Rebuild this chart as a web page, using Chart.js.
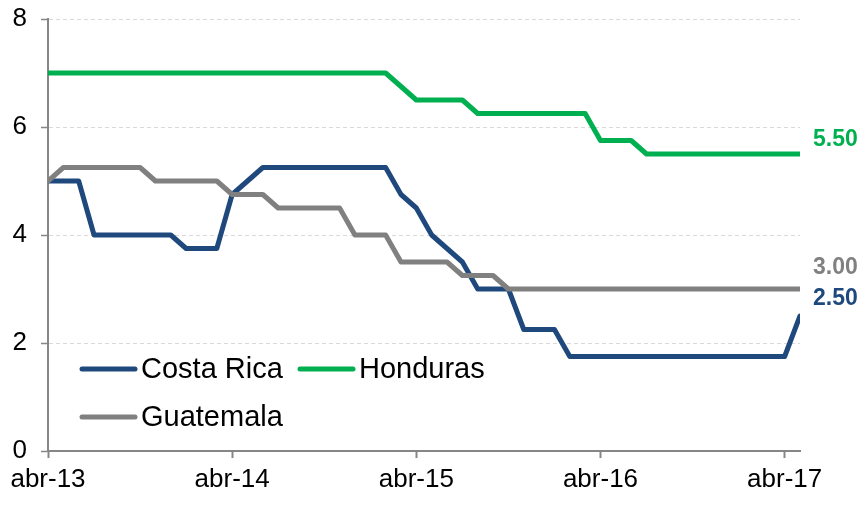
<!DOCTYPE html>
<html>
<head>
<meta charset="utf-8">
<script src="https://cdn.jsdelivr.net/npm/chart.js@4/dist/chart.umd.min.js"></script>
<style>
  html, body { margin: 0; padding: 0; background: #ffffff; }
  #wrap { width: 865px; height: 505px; position: relative; }
</style>
</head>
<body>
<div id="wrap"><canvas id="c" width="865" height="505"></canvas></div>
<script>
// Monthly data, abr-2013 (index 0) to may-2017 (index 49)
const tickLabels = ["abr-13", "abr-14", "abr-15", "abr-16", "abr-17"];
const tickMonths = [0, 12, 24, 36, 48];
const seriesNames = ["Costa Rica", "Honduras", "Guatemala"];

const costaRica = [
  5, 5, 5,
  4, 4, 4, 4, 4, 4,
  3.75, 3.75, 3.75,
  4.75, 5,
  5.25, 5.25, 5.25, 5.25, 5.25, 5.25, 5.25, 5.25, 5.25,
  4.75, 4.5, 4, 3.75, 3.5,
  3, 3, 3,
  2.25, 2.25, 2.25,
  1.75, 1.75, 1.75, 1.75, 1.75, 1.75, 1.75, 1.75, 1.75, 1.75, 1.75, 1.75, 1.75, 1.75, 1.75,
  2.5
];
const honduras = [
  7, 7, 7, 7, 7, 7, 7, 7, 7, 7, 7, 7, 7, 7, 7, 7, 7, 7, 7, 7, 7, 7, 7,
  6.75,
  6.5, 6.5, 6.5, 6.5,
  6.25, 6.25, 6.25, 6.25, 6.25, 6.25, 6.25, 6.25,
  5.75, 5.75, 5.75,
  5.5, 5.5, 5.5, 5.5, 5.5, 5.5, 5.5, 5.5, 5.5, 5.5, 5.5
];
const guatemala = [
  5,
  5.25, 5.25, 5.25, 5.25, 5.25, 5.25,
  5, 5, 5, 5, 5,
  4.75, 4.75, 4.75,
  4.5, 4.5, 4.5, 4.5, 4.5,
  4, 4, 4,
  3.5, 3.5, 3.5, 3.5,
  3.25, 3.25, 3.25,
  3, 3, 3, 3, 3, 3, 3, 3, 3, 3, 3, 3, 3, 3, 3, 3, 3, 3, 3, 3
];

const colors = ["#1F497D", "#00B050", "#808080"];
const endLabelDy = [-17, -14, -21]; // vertical nudge of the end-value labels (px)
const FONT = "'Liberation Sans', Arial, sans-serif";

function toPoints(arr) { return arr.map((v, i) => ({ x: i, y: v })); }

const endLabels = {
  id: 'endLabels',
  afterDatasetsDraw(chart) {
    const ctx = chart.ctx;
    ctx.save();
    ctx.font = "bold 23px " + FONT;
    ctx.textBaseline = 'middle';
    ctx.textAlign = 'left';
    chart.data.datasets.forEach((ds, i) => {
      const meta = chart.getDatasetMeta(i);
      const last = meta.data[meta.data.length - 1];
      const val = ds.data[ds.data.length - 1].y;
      ctx.fillStyle = ds.borderColor;
      ctx.fillText(val.toFixed(2), last.x + 13, last.y + endLabelDy[i]);
    });
    ctx.restore();
  }
};

const insideLegend = {
  id: 'insideLegend',
  afterDatasetsDraw(chart) {
    const ctx = chart.ctx;
    const a = chart.chartArea;
    const items = [
      { i: 0, col: 0, row: 0 },
      { i: 1, col: 1, row: 0 },
      { i: 2, col: 0, row: 1 }
    ];
    const colX = [a.left + 34, a.left + 252];
    const rowY = [a.top + 350, a.top + 398];
    ctx.save();
    ctx.font = "29px " + FONT;
    ctx.textBaseline = 'middle';
    ctx.textAlign = 'left';
    items.forEach(it => {
      const ds = chart.data.datasets[it.i];
      const x = colX[it.col], y = rowY[it.row];
      ctx.strokeStyle = ds.borderColor;
      ctx.lineWidth = 5;
      ctx.lineCap = 'round';
      ctx.beginPath();
      ctx.moveTo(x, y);
      ctx.lineTo(x + 53, y);
      ctx.stroke();
      ctx.fillStyle = '#000000';
      ctx.fillText(ds.label, x + 59, y + 1);
    });
    ctx.restore();
  }
};

new Chart(document.getElementById('c'), {
  type: 'line',
  data: {
    datasets: [
      { label: seriesNames[0], data: toPoints(costaRica), borderColor: colors[0], order: 2 },
      { label: seriesNames[1], data: toPoints(honduras), borderColor: colors[1], order: 3 },
      { label: seriesNames[2], data: toPoints(guatemala), borderColor: colors[2], order: 1 }
    ]
  },
  options: {
    responsive: false,
    animation: false,
    devicePixelRatio: 1,
    layout: { padding: { left: 0, right: 65, top: 19, bottom: 0 } },
    elements: {
      line: { borderWidth: 5, tension: 0, borderCapStyle: 'round', borderJoinStyle: 'round', fill: false },
      point: { radius: 0, hoverRadius: 0 }
    },
    plugins: { legend: { display: false }, tooltip: { enabled: false } },
    scales: {
      x: {
        type: 'linear',
        min: 0,
        max: costaRica.length - 1,
        afterBuildTicks(scale) { scale.ticks = tickMonths.map(v => ({ value: v })); },
        afterFit(scale) { scale.height = 54; scale.paddingLeft = 0; scale.paddingRight = 0; },
        ticks: {
          autoSkip: false,
          maxRotation: 0,
          padding: 6,
          color: '#000000',
          font: { family: FONT, size: 26 },
          callback(v) { const k = tickMonths.indexOf(v); return k >= 0 ? tickLabels[k] : ''; }
        },
        grid: { drawOnChartArea: false, drawTicks: true, tickLength: 7, tickColor: '#868686', tickWidth: 2 },
        border: { color: '#868686', width: 2 }
      },
      y: {
        min: 0,
        max: 8,
        afterFit(scale) { scale.width = 48; scale.paddingTop = 0; scale.paddingBottom = 0; },
        ticks: {
          stepSize: 2,
          padding: 14,
          color: '#000000',
          font: { family: FONT, size: 26 }
        },
        grid: { color: '#D9D9D9', lineWidth: 1, tickLength: 7, tickColor: '#868686', tickWidth: 1.5, tickBorderDash: [] },
        border: { color: '#868686', width: 2, dash: [4, 3] }
      }
    }
  },
  plugins: [endLabels, insideLegend]
});
</script>
</body>
</html>
